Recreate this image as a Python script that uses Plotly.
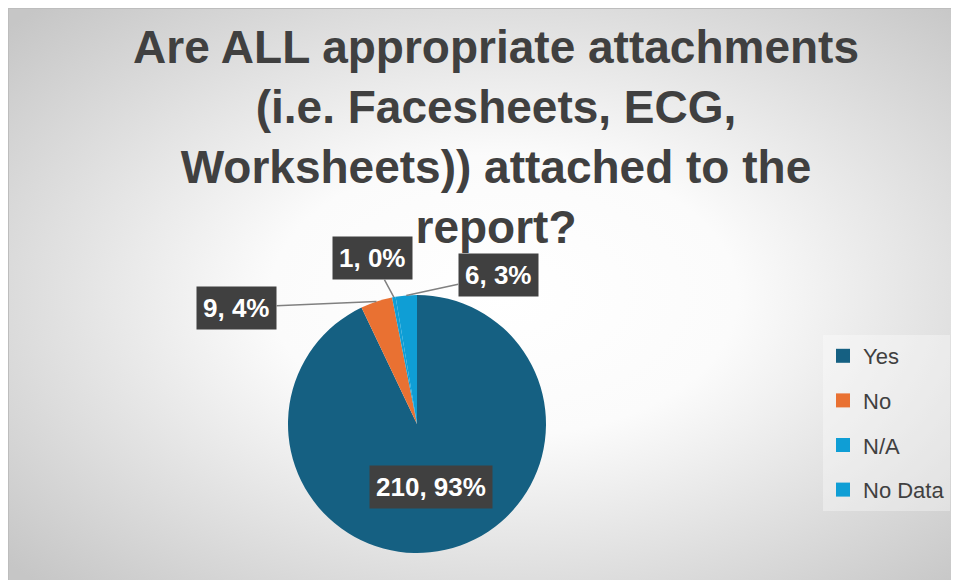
import math, base64
import plotly.graph_objects as go

# ---- data ----
categories = ["Yes", "No", "N/A", "No Data"]
counts = [210, 9, 1, 6]
colors = ["#156082", "#E97132", "#0F9ED5", "#0F9ED5"]
title_text = "Are ALL appropriate attachments<br>(i.e. Facesheets, ECG,<br>Worksheets)) attached to the<br>report?"

W, H = 951, 572
# pie geometry (figure pixels)
PCX, PCY, PR = 409, 416, 129
dom_x = [(PCX - PR) / W, (PCX + PR) / W]
dom_y = [(H - (PCY + PR)) / H, (H - (PCY - PR)) / H]

FONT = "Liberation Sans, Arial"

fig = go.Figure()

fig.add_trace(go.Pie(
    labels=categories, values=counts, sort=False, direction="clockwise",
    rotation=0, marker=dict(colors=colors, line=dict(width=0)),
    textinfo="none", hoverinfo="label+value+percent", showlegend=False,
    domain=dict(x=dom_x, y=dom_y),
))

# legend via dummy traces (for spacing control)
for i, (c, col) in enumerate(zip(categories, colors)):
    fig.add_trace(go.Scatter(
        x=[None], y=[None], mode="markers", name=c, legendgroup=f"g{i}",
        marker=dict(symbol="square", size=14, color=col),
        showlegend=True, hoverinfo="skip"))

# ---- data labels ----
total = sum(counts)
cum = 0
# offsets (pixels) of label box centre from the slice edge point
offsets = {"No": (-140, 6), "N/A": (-21, -39), "No Data": (92, -20)}
label_font = dict(family=FONT, size=26, color="white", weight="bold")
annotations = []
for c, v in zip(categories, counts):
    start = cum / total * 360
    cum += v
    end = cum / total * 360
    mid = math.radians((start + end) / 2)
    pct = round(v / total * 100)
    txt = f"{v}, {pct}%"
    if c == "Yes":
        r = 0.5 * PR
        px = PCX + r * math.sin(mid)
        py = PCY - r * math.cos(mid)
        annotations.append(dict(
            x=px / W, y=1 - py / H, xref="paper", yref="paper", text=txt,
            xanchor="center", yanchor="middle",
            showarrow=False, bgcolor="#404040", borderpad=6, font=label_font))
    else:
        px = PCX + PR * math.sin(mid)
        py = PCY - PR * math.cos(mid)
        ax, ay = offsets[c]
        annotations.append(dict(
            x=px / W, y=1 - py / H, xref="paper", yref="paper", text=txt,
            xanchor="center", yanchor="middle",
            showarrow=True, ax=ax, ay=ay, arrowhead=0, arrowwidth=1.5,
            arrowcolor="#808080", standoff=0, bgcolor="#404040", borderpad=6,
            font=label_font))

# ---- background gradient (svg) ----
svg = f'''<svg xmlns="http://www.w3.org/2000/svg" width="{W}" height="{H}" preserveAspectRatio="none">
<defs><radialGradient id="g" cx="0.52" cy="0.5" r="0.7" gradientUnits="objectBoundingBox">
<stop offset="0" stop-color="#ffffff"/><stop offset="0.35" stop-color="#fbfbfb"/>
<stop offset="1" stop-color="#c6c6c6"/></radialGradient></defs>
<rect x="0.5" y="0.5" width="{W + 2}" height="{H + 2}" fill="url(#g)" stroke="#bdbdbd" stroke-width="1"/>
</svg>'''
src = "data:image/svg+xml;base64," + base64.b64encode(svg.encode()).decode()

fig.update_layout(
    width=W, height=H, margin=dict(l=0, r=0, t=0, b=0),
    paper_bgcolor="white", plot_bgcolor="rgba(0,0,0,0)",
    images=[dict(source=src, xref="paper", yref="paper", x=0, y=1, sizex=1, sizey=1,
                 sizing="stretch", layer="below", xanchor="left", yanchor="top")],
    xaxis=dict(visible=False), yaxis=dict(visible=False),
    title=dict(text=title_text, x=488 / W, xanchor="center", y=1 - 55.1 / H, yanchor="top",
               font=dict(family=FONT, size=46, color="#404040", weight="bold")),
    legend=dict(x=815 / W, y=1 - 327 / H, xanchor="left", yanchor="top",
                bgcolor="rgba(255,255,255,0.35)", tracegroupgap=13,
                font=dict(family=FONT, size=22, color="#404040")),
    annotations=annotations,
)

fig.write_html("out.html")
